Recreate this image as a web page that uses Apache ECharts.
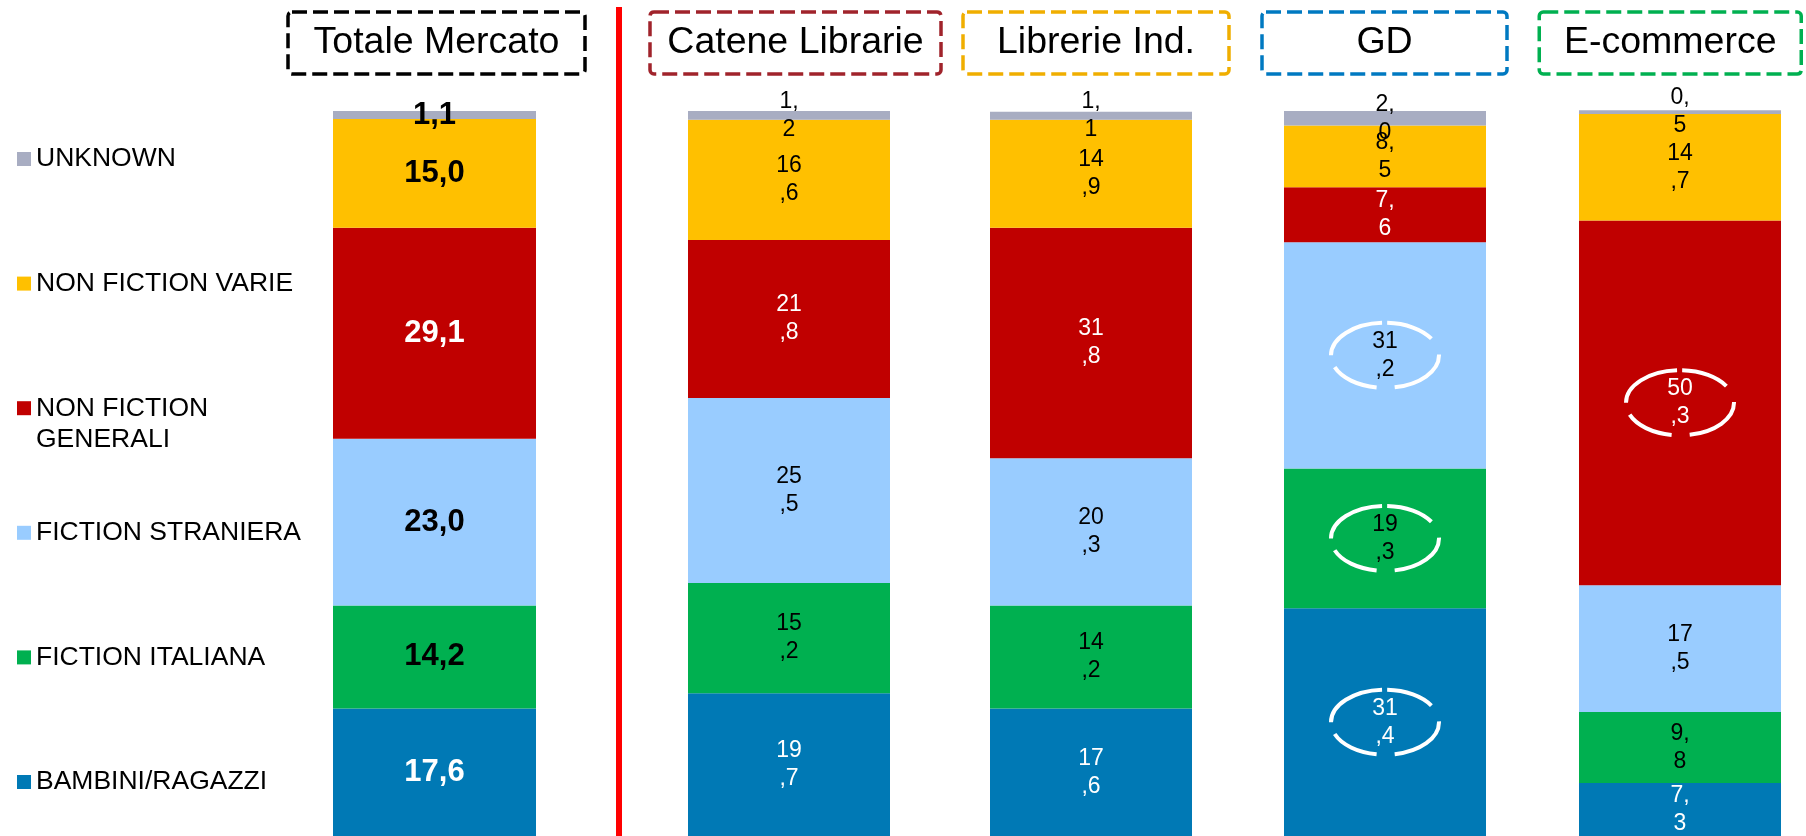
<!DOCTYPE html>
<html><head><meta charset="utf-8">
<script src="https://cdn.jsdelivr.net/npm/echarts@6/dist/echarts.min.js"></script>
<style>html,body{margin:0;padding:0;background:#fff}#c{width:1806px;height:836px}</style>
</head><body><div id="c"></div>
<script>
// ---------- DATA ----------
const channels = ['Totale Mercato', 'Catene Librarie', 'Librerie Ind.', 'GD', 'E-commerce'];
const segments = ['UNKNOWN', 'NON FICTION VARIE', 'NON FICTION GENERALI', 'FICTION STRANIERA', 'FICTION ITALIANA', 'BAMBINI/RAGAZZI'];
const legendLabels = ['UNKNOWN', 'NON FICTION VARIE', 'NON FICTION\nGENERALI', 'FICTION STRANIERA', 'FICTION ITALIANA', 'BAMBINI/RAGAZZI'];
const unknown            = [1.1, 1.2, 1.1, 2.0, 0.5];
const nonFictionVarie    = [15.0, 16.6, 14.9, 8.5, 14.7];
const nonFictionGenerali = [29.1, 21.8, 31.8, 7.6, 50.3];
const fictionStraniera   = [23.0, 25.5, 20.3, 31.2, 17.5];
const fictionItaliana    = [14.2, 15.2, 14.2, 19.3, 9.8];
const bambiniRagazzi     = [17.6, 19.7, 17.6, 31.4, 7.3];
const highlighted = [
  ['GD', 'FICTION STRANIERA'],
  ['GD', 'FICTION ITALIANA'],
  ['GD', 'BAMBINI/RAGAZZI'],
  ['E-commerce', 'NON FICTION GENERALI']
];

// ---------- STYLE ----------
const FONT = "'Liberation Sans', Arial, Helvetica, sans-serif";
const values = {
  'UNKNOWN': unknown,
  'NON FICTION VARIE': nonFictionVarie,
  'NON FICTION GENERALI': nonFictionGenerali,
  'FICTION STRANIERA': fictionStraniera,
  'FICTION ITALIANA': fictionItaliana,
  'BAMBINI/RAGAZZI': bambiniRagazzi
};
const segColor = {
  'UNKNOWN': '#A8ADC2',
  'NON FICTION VARIE': '#FFC000',
  'NON FICTION GENERALI': '#C00000',
  'FICTION STRANIERA': '#99CCFF',
  'FICTION ITALIANA': '#00B050',
  'BAMBINI/RAGAZZI': '#0079B5'
};
const segLabelColor = {
  'UNKNOWN': '#000', 'NON FICTION VARIE': '#000', 'NON FICTION GENERALI': '#fff',
  'FICTION STRANIERA': '#000', 'FICTION ITALIANA': '#000', 'BAMBINI/RAGAZZI': '#fff'
};
const layout = [
  { left: 333, width: 203, boxL: 288, boxW: 297, border: '#000000' },
  { left: 688, width: 202, boxL: 650, boxW: 291, border: '#A0232B' },
  { left: 990, width: 202, boxL: 963, boxW: 266, border: '#F0AE00' },
  { left: 1284, width: 202, boxL: 1262, boxW: 245, border: '#0079C1' },
  { left: 1579, width: 202, boxL: 1550, boxW: 262, border: '#00B050' }
];
const GRID_TOP = 111, GRID_H = 727;
const stackOrder = segments.slice().reverse(); // bottom to top
const N = channels.length;

const fmt = v => v.toFixed(1).replace('.', ',');

const chart = echarts.init(document.getElementById('c'), null, { renderer: 'canvas' });

const grid = [], xAxis = [], yAxis = [], series = [];
// bar grids
channels.forEach((ch, c) => {
  const L = layout[c];
  grid.push({ left: L.left, width: L.width, top: GRID_TOP, height: GRID_H });
  xAxis.push({ type: 'category', gridIndex: c, data: [ch], show: false });
  yAxis.push({ type: 'value', gridIndex: c, min: 0, max: 100, show: false });
  stackOrder.forEach(seg => {
    const isTot = c === 0;
    series.push({
      type: 'bar', name: seg, xAxisIndex: c, yAxisIndex: c, stack: 'ch' + c,
      data: [values[seg][c]], barWidth: '100%', clip: false,
      itemStyle: { color: segColor[seg] },
      emphasis: { disabled: true },
      label: {
        show: true, position: 'inside', color: segLabelColor[seg], fontFamily: FONT,
        fontSize: isTot ? 31 : 23, fontWeight: isTot ? 'bold' : 'normal',
        lineHeight: isTot ? 36 : 28,
        formatter: p => {
          const s = fmt(p.value);
          return isTot ? s : s.slice(0, 2) + '\n' + s.slice(2);
        }
      }
    });
  });
});
// header grids (channel titles in dashed boxes)
channels.forEach((ch, c) => {
  const L = layout[c];
  grid.push({ left: L.boxL, width: L.boxW, top: GRID_TOP, height: 1 });
  xAxis.push({
    type: 'category', gridIndex: N + c, data: [ch], position: 'top',
    axisLine: { show: false }, axisTick: { show: false }, splitLine: { show: false },
    axisLabel: {
      show: true, interval: 0, margin: 37, color: '#000', fontFamily: FONT, fontSize: 37.5,
      lineHeight: 44, width: L.boxW - 8, align: 'center', overflow: 'none',
      padding: [9, 4, 9, 4], borderColor: L.border, borderWidth: 3.5,
      borderType: [15, 6], borderRadius: 4
    }
  });
  yAxis.push({ type: 'value', gridIndex: N + c, show: false });
});

chart.setOption({
  animation: false,
  backgroundColor: '#fff',
  textStyle: { fontFamily: FONT },
  grid, xAxis, yAxis, series,
  legend: {
    orient: 'vertical', left: 17, top: 112.5, padding: 0, itemGap: 31.6,
    itemWidth: 14, itemHeight: 14, icon: 'rect', selectedMode: false,
    data: segments.map((name, i) => ({
      name,
      textStyle: { padding: legendLabels[i].includes('\n') ? [0, 0, 0, 0] : [31, 0, 31, 0], backgroundColor: 'transparent' }
    })),
    formatter: name => {
      const t = legendLabels[segments.indexOf(name)];
      return t.includes('\n') ? ' \n' + t : t;
    },
    textStyle: { fontSize: 26.5, lineHeight: 31, color: '#000', fontFamily: FONT }
  }
});

// ---------- annotations: red separator + dashed ellipses ----------
const graphics = [{
  type: 'rect', left: 616, top: 7, silent: true,
  shape: { width: 6, height: 829 }, style: { fill: '#FF0000' }
}];
highlighted.forEach(([ch, seg]) => {
  const c = channels.indexOf(ch);
  let below = 0;
  for (const s of stackOrder) { if (s === seg) break; below += values[s][c]; }
  const mid = below + values[seg][c] / 2;
  const pt = chart.convertToPixel({ xAxisIndex: c, yAxisIndex: c }, [0, mid]);
  graphics.push({
    type: 'ellipse', silent: true, z: 100,
    shape: { cx: pt[0], cy: pt[1], rx: 54, ry: 32.5 },
    style: { fill: 'none', stroke: '#fff', lineWidth: 4, lineDash: [66, 5, 48, 18, 60, 18, 48, 13] }
  });
});
chart.setOption({ graphic: graphics });
</script>
</body></html>
